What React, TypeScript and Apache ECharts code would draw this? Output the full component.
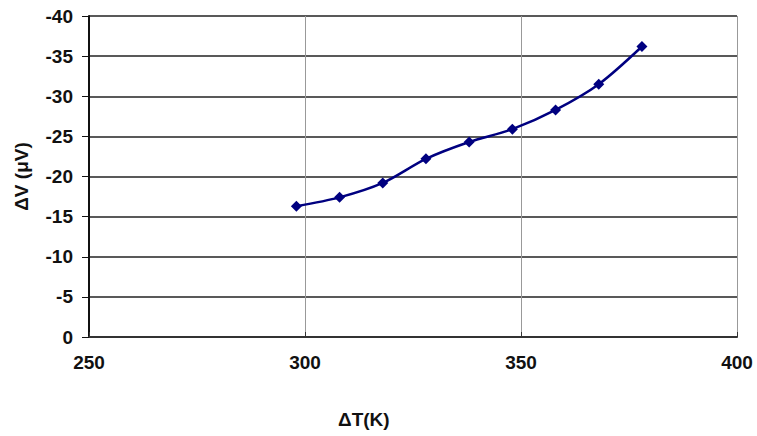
import React, { useEffect, useRef } from "react";
import * as echarts from "echarts";

const deltaT = [298, 308, 318, 328, 338, 348, 358, 368, 378];
const deltaV = [-16.3, -17.4, -19.2, -22.2, -24.3, -25.9, -28.3, -31.5, -36.2];
const xTicks = { min: 250, max: 400, interval: 50 };
const yTicks = { min: -40, max: 0, interval: 5 };

export default function App() {
  const ref = useRef<HTMLDivElement>(null);
  useEffect(() => {
    const chart = echarts.init(ref.current!, undefined, { renderer: "svg" });
    const font = "'Liberation Sans', Arial, sans-serif";
    chart.setOption({
      animation: false,
      backgroundColor: "#ffffff",
      grid: { left: 89, right: 20, top: 16, bottom: 99 },
      xAxis: {
        type: "value",
        min: xTicks.min,
        max: xTicks.max,
        interval: xTicks.interval,
        axisLine: { show: true, onZero: false, lineStyle: { color: "#333", width: 2 } },
        axisTick: { show: true, inside: true, length: 5, lineStyle: { color: "#333" } },
        axisLabel: {
          color: "#111",
          fontFamily: font,
          fontWeight: "bold",
          fontSize: 19,
          margin: 16,
        },
        splitLine: { show: true, lineStyle: { color: "#999", width: 1 } },
      },
      yAxis: {
        type: "value",
        inverse: true,
        min: yTicks.min,
        max: yTicks.max,
        interval: yTicks.interval,
        name: "ΔV (μV)",
        nameLocation: "middle",
        nameGap: 58,
        nameRotate: 90,
        nameTextStyle: { color: "#111", fontFamily: font, fontWeight: "bold", fontSize: 19 },
        axisLine: { show: true, onZero: false, lineStyle: { color: "#111", width: 2 } },
        axisTick: { show: true, inside: false, length: 7, lineStyle: { color: "#111" } },
        axisLabel: {
          color: "#111",
          fontFamily: font,
          fontWeight: "bold",
          fontSize: 19,
          margin: 16,
        },
        splitLine: { show: true, lineStyle: { color: "#222", width: 1.5 } },
      },
      graphic: [
        {
          type: "text",
          left: 338,
          top: 410,
          style: {
            text: "ΔT(K)",
            fill: "#111",
            font: `bold 19px ${font}`,
          },
        },
      ],
      series: [
        {
          type: "line",
          data: deltaT.map((t, i) => [t, deltaV[i]]),
          smooth: 0.3,
          symbol: "diamond",
          symbolSize: 11,
          itemStyle: { color: "#000080" },
          lineStyle: { color: "#000080", width: 2.5 },
        },
      ],
    });
    return () => chart.dispose();
  }, []);
  return <div ref={ref} style={{ width: 757, height: 436, position: "absolute", left: 0, top: 0 }} />;
}
